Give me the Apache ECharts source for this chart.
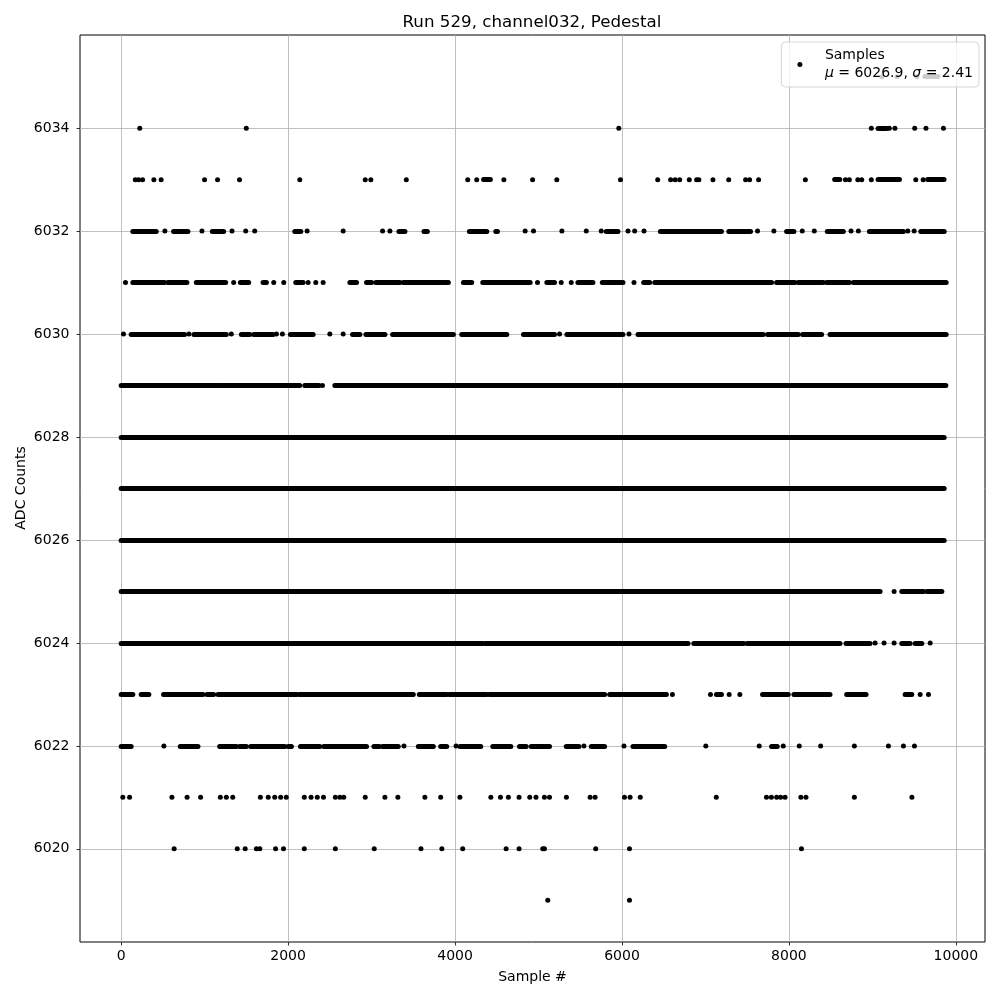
<!DOCTYPE html>
<html>
<head>
<meta charset="utf-8">
<script src="https://cdn.jsdelivr.net/npm/echarts@6/dist/echarts.min.js"></script>
<style>html,body{margin:0;padding:0;background:#fff}#c{width:1000px;height:1000px}</style>
</head>
<body>
<div id="c"></div>
<script>
// ---- Axis ticks ----
const xTicks = [0, 2000, 4000, 6000, 8000, 10000];
const yTicks = [6020, 6022, 6024, 6026, 6028, 6030, 6032, 6034];
const xMin = -493, xMax = 10349;
const yMin = 6018.19, yMax = 6035.81;

// ---- Sample positions, per ADC level ----
// "dots": isolated samples; "runs": stretches where samples are so dense the dots merge into a bar
const dots6035 = [9114, 9293, 9533];
const runs6035 = [[9629, 9784]];
const dots6034 = [223, 1499, 5962, 8987, 9203, 9270, 9507, 9642, 9851];
const runs6034 = [[9068, 9172]];
const dots6033 = [169, 209, 257, 392, 479, 999, 1155, 1418, 2140, 2924, 2991, 3416, 4152, 4260, 4585, 4929, 5219, 5982, 6428, 6583, 6637, 6691, 6806, 6894, 6921, 7090, 7279, 7481, 7529, 7637, 8197, 8677, 8724, 8825, 8872, 8987, 9520, 9608];
const runs6033 = [[4342, 4423], [8548, 8609], [9068, 9324], [9662, 9858]];
const dots6032 = [524, 968, 1328, 1492, 1600, 2228, 2660, 3132, 3220, 4840, 4940, 5280, 5572, 5752, 6072, 6152, 6264, 7624, 7820, 8160, 8304, 8744, 8832, 9424, 9500];
const runs6032 = [[140, 420], [628, 800], [1092, 1228], [2080, 2152], [3328, 3400], [3628, 3668], [4172, 4380], [4488, 4508], [5812, 5952], [6460, 7192], [7280, 7540], [7972, 8060], [8460, 8652], [8964, 9372], [9580, 9860]];
const dots6031 = [52, 1348, 1828, 1948, 2240, 2332, 2420, 3920, 4988, 5272, 5392, 6144];
const runs6031 = [[140, 520], [560, 788], [900, 1252], [1428, 1528], [1700, 1740], [2092, 2180], [2740, 2820], [2940, 3000], [3052, 3340], [3380, 3900], [4100, 4200], [4332, 4900], [5100, 5192], [5472, 5652], [5764, 6012], [6260, 6332], [6392, 7792], [7852, 8072], [8112, 8412], [8452, 8724], [8772, 9884]];
const dots6030 = [28, 812, 1320, 1860, 1932, 2500, 2660, 5252, 6084];
const runs6030 = [[120, 760], [872, 1260], [1440, 1540], [1588, 1820], [2028, 2300], [2772, 2860], [2932, 3160], [3252, 3980], [4080, 4620], [4820, 5192], [5340, 6012], [6192, 7692], [7744, 8112], [8164, 8392], [8492, 9884]];
const dots6029 = [2412];
const runs6029 = [[0, 1160], [1180, 2140], [2200, 2370], [2560, 9880]];
const dots6028 = [];
const runs6028 = [[0, 9860]];
const dots6027 = [];
const runs6027 = [[0, 9860]];
const dots6026 = [];
const runs6026 = [[0, 9860]];
const dots6025 = [9260];
const runs6025 = [[0, 9092], [9352, 9612], [9652, 9832]];
const dots6024 = [9032, 9140, 9260, 9692];
const runs6024 = [[0, 4332], [4360, 6792], [6860, 7460], [7500, 8612], [8684, 8972], [9352, 9452], [9512, 9592]];
const dots6023 = [6604, 7060, 7284, 7412, 9572, 9672];
const runs6023 = [[0, 140], [240, 332], [508, 980], [1028, 1108], [1160, 2100], [2132, 3500], [3572, 3900], [3932, 4380], [4412, 5792], [5852, 6532], [7132, 7192], [7684, 7992], [8060, 8492], [8692, 8924], [9392, 9472]];
const dots6022 = [512, 3388, 4012, 5544, 6024, 7004, 7644, 7932, 8124, 8380, 8784, 9192, 9372, 9504];
const runs6022 = [[0, 120], [708, 920], [1180, 1380], [1420, 1500], [1552, 1960], [2000, 2040], [2148, 2380], [2428, 2940], [3028, 3092], [3132, 3320], [3560, 3740], [3828, 3900], [4060, 4308], [4452, 4668], [4772, 4852], [4912, 5132], [5332, 5484], [5632, 5792], [6132, 6512], [7792, 7860]];
const dots6021 = [20, 101, 608, 790, 952, 1188, 1260, 1337, 1668, 1762, 1840, 1911, 1978, 2194, 2275, 2350, 2424, 2566, 2620, 2667, 2924, 3160, 3315, 3639, 3828, 4058, 4429, 4544, 4639, 4767, 4895, 4970, 5071, 5132, 5334, 5618, 5678, 6030, 6097, 6219, 7130, 7731, 7790, 7853, 7900, 7954, 8143, 8204, 8784, 9473];
const runs6021 = [];
const dots6020 = [635, 1391, 1486, 1620, 1661, 1850, 1945, 2194, 2566, 3032, 3592, 3842, 4092, 4612, 4767, 5051, 5071, 5685, 6090, 8150];
const runs6020 = [];
const dots6019 = [5111, 6090];
const runs6019 = [];

const levelTable = [
  [6035, dots6035, runs6035], [6034, dots6034, runs6034], [6033, dots6033, runs6033],
  [6032, dots6032, runs6032], [6031, dots6031, runs6031], [6030, dots6030, runs6030],
  [6029, dots6029, runs6029], [6028, dots6028, runs6028], [6027, dots6027, runs6027],
  [6026, dots6026, runs6026], [6025, dots6025, runs6025], [6024, dots6024, runs6024],
  [6023, dots6023, runs6023], [6022, dots6022, runs6022], [6021, dots6021, runs6021],
  [6020, dots6020, runs6020], [6019, dots6019, runs6019]
];

const seriesName = 'Samples';
const meanVal = '6026.9';
const sigmaVal = '2.41';
const titleText = 'Run 529, channel032, Pedestal';
const xName = 'Sample #';
const yName = 'ADC Counts';

// ---- build library data ----
const scatterData = [];
const runData = [];
levelTable.forEach(function (row) {
  const y = row[0];
  row[1].forEach(function (x) { scatterData.push([x, y]); });
  row[2].forEach(function (r) { runData.push({ coords: [[r[0], y], [r[1], y]] }); });
});

const FONT = 'DejaVu Sans';
const plain = function (v) { return String(v); };
const chart = echarts.init(document.getElementById('c'), null, { renderer: 'canvas' });
chart.setOption({
  animation: false,
  backgroundColor: '#ffffff',
  textStyle: { fontFamily: FONT },
  title: {
    text: titleText,
    left: 527, top: 9, textAlign: 'center',
    textStyle: { fontFamily: FONT, fontSize: 16.7, fontWeight: 'normal', color: '#000' }
  },
  graphic: [{
    type: 'text', x: 21, y: 488, rotation: Math.PI / 2, silent: true,
    style: { text: yName, fontFamily: FONT, fontSize: 14, fill: '#000', align: 'center', verticalAlign: 'middle' }
  }],
  grid: {
    left: 80, right: 15, top: 35, bottom: 58,
    show: true, borderColor: '#000', borderWidth: 1, backgroundColor: 'transparent',
    containLabel: false
  },
  legend: {
    data: [seriesName],
    orient: 'vertical',
    right: 21, top: 42,
    padding: [5, 6, 5, 16],
    itemWidth: 30, itemHeight: 5,
    icon: 'circle',
    itemStyle: { color: '#000', opacity: 1 },
    backgroundColor: 'rgba(255,255,255,0.8)',
    borderColor: 'rgba(204,204,204,0.8)', borderWidth: 1, borderRadius: 4,
    formatter: function (name) {
      return name + '\n{i|μ} = ' + meanVal + ', {i|σ} = ' + sigmaVal;
    },
    textStyle: {
      fontFamily: FONT, fontSize: 14, color: '#000', lineHeight: 17.5, padding: [0, 0, 0, 5],
      rich: { i: { fontStyle: 'italic', fontFamily: FONT, fontSize: 14, lineHeight: 17.5 } }
    }
  },
  xAxis: {
    type: 'value', min: xMin, max: xMax,
    name: xName, nameLocation: 'middle', nameGap: 28,
    nameTextStyle: { fontFamily: FONT, fontSize: 14, color: '#000' },
    axisLine: { show: false, onZero: false },
    axisTick: { show: true, inside: false, length: 3.5, customValues: xTicks, lineStyle: { color: '#000', width: 0.8 } },
    axisLabel: { customValues: xTicks, formatter: plain, margin: 7, fontFamily: FONT, fontSize: 14, color: '#000' },
    splitLine: { show: true, lineStyle: { color: '#b0b0b0', width: 0.8 } }
  },
  yAxis: {
    type: 'value', min: yMin, max: yMax,
    axisLine: { show: false, onZero: false },
    axisTick: { show: true, inside: false, length: 3.5, customValues: yTicks, lineStyle: { color: '#000', width: 0.8 } },
    axisLabel: { customValues: yTicks, formatter: plain, margin: 10.5, fontFamily: FONT, fontSize: 14, color: '#000' },
    splitLine: { show: true, lineStyle: { color: '#b0b0b0', width: 0.8 } }
  },
  series: [
    {
      name: seriesName + ' runs',
      type: 'lines',
      coordinateSystem: 'cartesian2d',
      silent: true,
      polyline: false,
      lineStyle: { color: '#000', width: 5, opacity: 1, cap: 'round' },
      data: runData,
      z: 3
    },
    {
      name: seriesName,
      type: 'scatter',
      symbol: 'circle',
      symbolSize: 5,
      silent: true,
      itemStyle: { color: '#000', opacity: 1 },
      data: scatterData,
      z: 3
    }
  ]
});
</script>
</body>
</html>
